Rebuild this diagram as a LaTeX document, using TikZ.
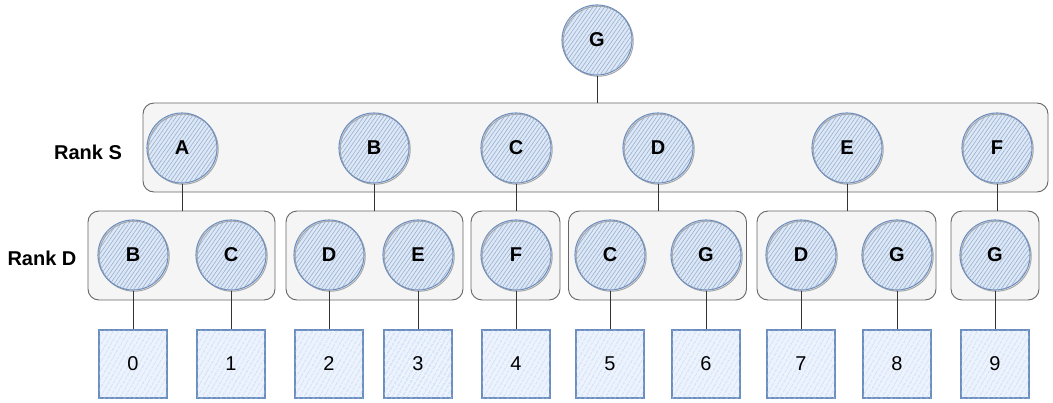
\documentclass[tikz,border=0pt]{standalone}
\usepackage{fontspec}
\setmainfont{Liberation Sans}
\usetikzlibrary{patterns.meta}
\definecolor{cfill}{HTML}{DAE8FC}
\definecolor{cstroke}{HTML}{6C8EBF}
\definecolor{chatch}{HTML}{A3AEBF}
\definecolor{shatch}{HTML}{B5CDF0}
\definecolor{sfill}{HTML}{EDF3FD}
\definecolor{gfill}{HTML}{F5F5F5}
\definecolor{gstroke}{HTML}{666666}
\definecolor{lnk}{HTML}{333333}
\tikzset{
  circ/.style={circle, minimum size=70pt, inner sep=0pt, draw=cstroke, line width=1.1pt,
    font=\fontsize{20}{20}\selectfont\bfseries,
    preaction={fill=cfill},
    preaction={draw=gray!70, line width=1pt, transform canvas={xshift=1.2pt,yshift=-1.2pt}},
    postaction={pattern={Lines[angle=55,distance=3.2pt,line width=0.6pt]}, pattern color=chatch}},
  sq/.style={rectangle, minimum size=68pt, inner sep=0pt, draw=cstroke, line width=1.1pt,
    font=\fontsize{20}{20}\selectfont,
    preaction={fill=sfill},
    postaction={pattern={Lines[angle=60,distance=4pt,line width=0.8pt]}, pattern color=shatch}},
  grp/.style={rectangle, rounded corners=11pt, draw=gstroke, fill=gfill, line width=0.9pt, inner sep=0pt},
  rlabel/.style={font=\fontsize{20}{20}\selectfont\bfseries},
  link/.style={draw=lnk, line width=1pt}
}
\begin{document}
\begin{tikzpicture}[x=1pt,y=-1pt]
\useasboundingbox (0,0) rectangle (1053,402);
% groups
\node[grp, minimum width=905pt, minimum height=89pt] (S) at (595.5,147.5) {};
\node[grp, minimum width=187pt, minimum height=89pt] (D1) at (181.5,255.5) {};
\node[grp, minimum width=177pt, minimum height=89pt] (D2) at (374.5,255.5) {};
\node[grp, minimum width=89pt, minimum height=89pt] (D3) at (515.5,255.5) {};
\node[grp, minimum width=178pt, minimum height=89pt] (D4) at (657.5,255.5) {};
\node[grp, minimum width=179pt, minimum height=89pt] (D5) at (846.5,255.5) {};
\node[grp, minimum width=88pt, minimum height=89pt] (D6) at (995,255.5) {};
% labels
\node[rlabel] (lS) at (88,152) {Rank S};
\node[rlabel] (lD) at (42,258) {Rank D};
% top
\node[circ] (G) at (597,40) {G};
% rank S
\node[circ] (sA) at (182,148) {A};
\node[circ] (sB) at (374,148) {B};
\node[circ] (sC) at (516,148) {C};
\node[circ] (sD) at (658,148) {D};
\node[circ] (sE) at (847,148) {E};
\node[circ] (sF) at (997,148) {F};
% rank D
\node[circ] (d0) at (133,255) {B};
\node[circ] (d1) at (231,255) {C};
\node[circ] (d2) at (329,255) {D};
\node[circ] (d3) at (418,255) {E};
\node[circ] (d4) at (516,255) {F};
\node[circ] (d5) at (610,255) {C};
\node[circ] (d6) at (706,255) {G};
\node[circ] (d7) at (801,255) {D};
\node[circ] (d8) at (897,255) {G};
\node[circ] (d9) at (995,255) {G};
% squares
\foreach \i/\x in {0/133,1/231,2/329,3/418,4/516,5/610,6/706,7/801,8/897,9/995}{
  \node[sq] (q\i) at (\x,364) {\i};
  \draw[link] (d\i) -- (q\i);
}
% links
\draw[link] (G) -- (G |- S.north);
\draw[link] (sA) -- (sA |- D1.north);
\draw[link] (sB) -- (sB |- D2.north);
\draw[link] (sC) -- (sC |- D3.north);
\draw[link] (sD) -- (sD |- D4.north);
\draw[link] (sE) -- (sE |- D5.north);
\draw[link] (sF) -- (sF |- D6.north);
\end{tikzpicture}
\end{document}
